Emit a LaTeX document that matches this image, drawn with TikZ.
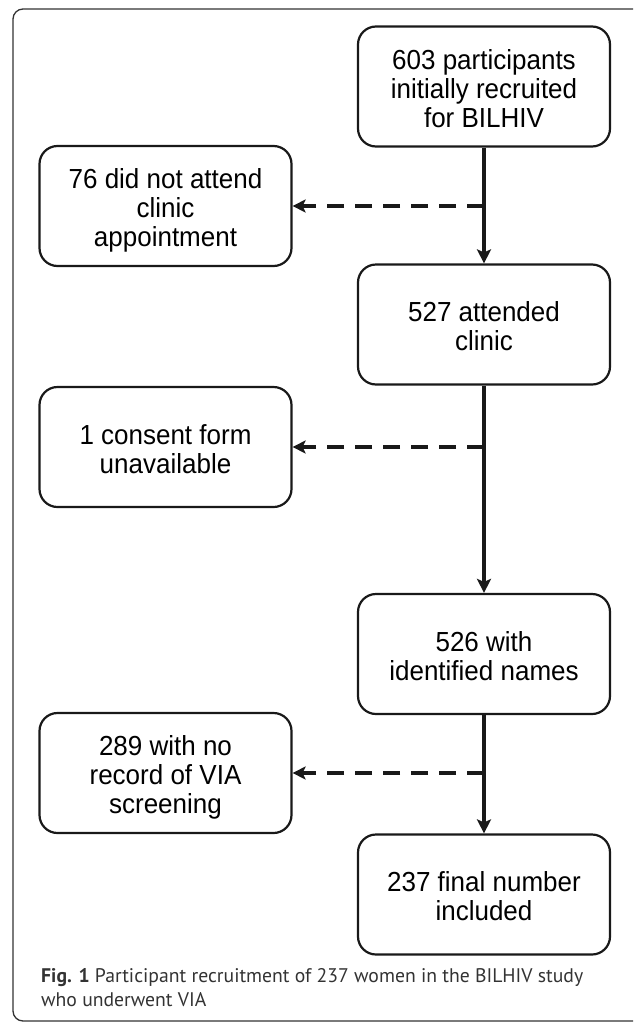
\documentclass[tikz,border=0pt]{standalone}
\usepackage{fontspec}
\setmainfont{Liberation Sans}
\newfontfamily\capfont{PT Sans}
\usetikzlibrary{arrows.meta}
\newcommand\boxtext[1]{\raisebox{-6pt}[\height][\depth]{\scalebox{1}[1.06]{\fontsize{26}{27.4}\selectfont
  \begin{tabular}{@{}c@{}}#1\end{tabular}}}}
\begin{document}
\begin{tikzpicture}[x=1pt,y=-1pt,
  flowbox/.style={draw=black!90, line width=2.2pt, rounded corners=18pt,
    minimum width=252pt, minimum height=120pt, align=center,
    inner sep=0pt},
  trunk/.style={draw=black!90, line width=3.2pt,
    -{Stealth[length=14pt,width=14pt,inset=3pt]}},
  side/.style={draw=black!90, line width=3.2pt, dash pattern=on 17pt off 11pt,
    -{Stealth[length=13pt,width=13pt,inset=3pt]}},
  frame/.style={draw=black!80, line width=1.3pt, rounded corners=10pt}]
\useasboundingbox (0,0) rectangle (633,1023);
\begin{scope}
  \clip (0,0) rectangle (633,1023);
  \draw[frame] (13,9) rectangle (680,1021);
\end{scope}

\node[flowbox] (n603) at (484,86.5) {\boxtext{603 participants\\initially recruited\\for BILHIV}};
\node[flowbox] (n76)  at (165.5,206) {\boxtext{76 did not attend\\clinic\\appointment}};
\node[flowbox] (n527) at (484,324.5) {\boxtext{527 attended\\clinic}};
\node[flowbox] (n1)   at (165.5,447) {\boxtext{1 consent form\\unavailable}};
\node[flowbox] (n526) at (484,654) {\boxtext{526 with\\identified names}};
\node[flowbox] (n289) at (165.5,773) {\boxtext{289 with no\\record of VIA\\screening}};
\node[flowbox] (n237) at (484,894.5) {\boxtext{237 final number\\included}};

\draw[trunk] (n603.south) -- (n527.north);
\draw[trunk] (n527.south) -- (n526.north);
\draw[trunk] (n526.south) -- (n237.north);

\coordinate (j1) at (n603.south |- n76.east);
\coordinate (j2) at (n527.south |- n1.east);
\coordinate (j3) at (n526.south |- n289.east);
\draw[side] (j1) -- (n76.east);
\draw[side] (j2) -- (n1.east);
\draw[side] (j3) -- (n289.east);

\node[anchor=north west, inner sep=0pt, text=black!80] (cap) at (41,966)
  {\resizebox{542pt}{!}{\capfont\fontsize{19}{23}\selectfont
   \begin{tabular}{@{}l@{}}\textbf{Fig. 1} Participant recruitment of 237 women in the BILHIV study\\
   who underwent VIA\end{tabular}}};
\end{tikzpicture}
\end{document}
